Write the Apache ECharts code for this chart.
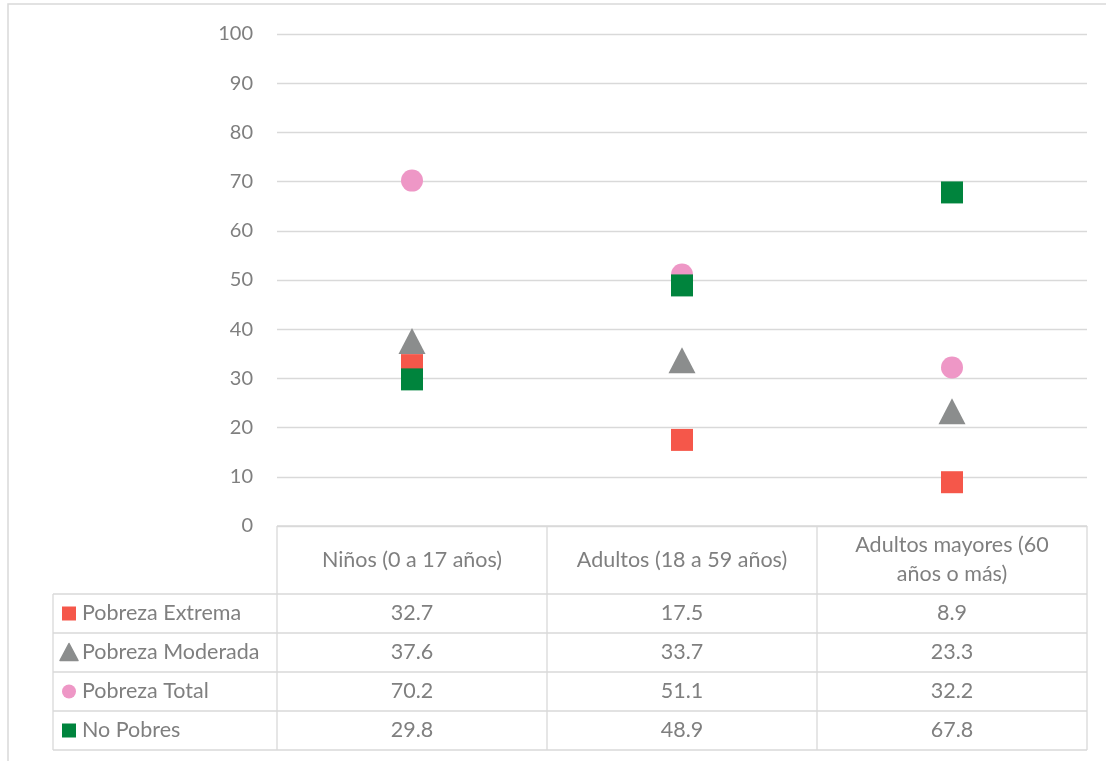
<!DOCTYPE html>
<html>
<head>
<meta charset="utf-8">
<script src="https://cdn.jsdelivr.net/npm/echarts@6/dist/echarts.min.js"></script>
<style>
html,body{margin:0;padding:0;background:#fff;}
#chart{width:1106px;height:761px;}
</style>
</head>
<body>
<div id="chart"></div>
<script>
// ---- data ----
var categories = ['Niños (0 a 17 años)', 'Adultos (18 a 59 años)', 'Adultos mayores (60\naños o más)'];
var seriesNames = ['Pobreza Extrema', 'Pobreza Moderada', 'Pobreza Total', 'No Pobres'];
var pobrezaExtrema = [32.7, 17.5, 8.9];
var pobrezaModerada = [37.6, 33.7, 23.3];
var pobrezaTotal = [70.2, 51.1, 32.2];
var noPobres = [29.8, 48.9, 67.8];
var yTicks = [0, 10, 20, 30, 40, 50, 60, 70, 80, 90, 100];

// ---- styles ----
var colors = ['#F5574A', '#8B8D8D', '#EE97C6', '#00843D'];
var symbols = ['rect', 'triangle', 'circle', 'rect'];
var symbolSizes = [22, [27, 26], 22, 22];
var allValues = [pobrezaExtrema, pobrezaModerada, pobrezaTotal, noPobres];
var textColor = '#7f7f7f';
var lineColor = '#d9d9d9';
var FONT = 'Lato';
var TABLE_FONT = '21.5px ' + FONT;

var GRID = {left: 277, right: 19, top: 34, bottom: 235};
var headerTop = 526, headerBottom = 594, rowH = 39, tableLeft = 53;

var chart = echarts.init(document.getElementById('chart'), null, {renderer: 'canvas'});

var series = seriesNames.map(function (name, i) {
  return {
    name: name,
    type: 'scatter',
    data: allValues[i],
    symbol: symbols[i],
    symbolSize: symbolSizes[i],
    itemStyle: {color: colors[i], opacity: 1},
    emphasis: {disabled: true},
    z: 2 + i
  };
});

chart.setOption({
  animation: false,
  backgroundColor: '#fff',
  grid: GRID,
  xAxis: {
    type: 'category',
    data: categories,
    boundaryGap: true,
    axisLine: {show: false},
    axisTick: {show: false},
    axisLabel: {show: false},
    splitLine: {show: false}
  },
  yAxis: {
    type: 'value',
    min: yTicks[0],
    max: yTicks[yTicks.length - 1],
    interval: yTicks[1] - yTicks[0],
    axisLine: {show: false},
    axisTick: {show: false},
    axisLabel: {color: textColor, fontSize: 20, fontFamily: FONT, margin: 24},
    splitLine: {lineStyle: {color: lineColor, width: 1.3}}
  },
  series: series
});

// ---- data table built from the arrays ----
var plotLeft = GRID.left, plotRight = 1106 - GRID.right;
var colW = (plotRight - plotLeft) / categories.length;
var g = [];
var lineStyle = {stroke: lineColor, lineWidth: 1.3};
function hline(x1, x2, y) { g.push({type: 'line', shape: {x1: x1, y1: y, x2: x2, y2: y}, style: lineStyle, silent: true}); }
function vline(x, y1, y2) { g.push({type: 'line', shape: {x1: x, y1: y1, x2: x, y2: y2}, style: lineStyle, silent: true}); }

var tableBottom = headerBottom + rowH * seriesNames.length;
// outer frame
g.push({type: 'rect', shape: {x: 8, y: 4, width: 1130, height: 800}, style: {fill: null, stroke: lineColor, lineWidth: 1.5}, silent: true, z: -1});
hline(plotLeft, plotRight, headerTop);
for (var r = 0; r <= seriesNames.length; r++) hline(tableLeft, plotRight, headerBottom + r * rowH);
for (var c = 0; c <= categories.length; c++) vline(plotLeft + c * colW, headerTop, tableBottom);
vline(tableLeft, headerBottom, tableBottom);

// header texts
categories.forEach(function (cat, i) {
  var cx = chart.convertToPixel({xAxisIndex: 0}, i);
  g.push({type: 'text', x: cx, y: (headerTop + headerBottom) / 2,
    style: {text: cat, fill: textColor, font: TABLE_FONT, align: 'center', verticalAlign: 'middle', lineHeight: 29}, silent: true});
});
// rows
seriesNames.forEach(function (name, r) {
  var cy = headerBottom + r * rowH + rowH / 2;
  var mx = 69;
  if (symbols[r] === 'rect') {
    g.push({type: 'rect', shape: {x: mx - 7, y: cy - 7, width: 14, height: 14}, style: {fill: colors[r]}, silent: true});
  } else if (symbols[r] === 'circle') {
    g.push({type: 'circle', shape: {cx: mx, cy: cy, r: 7}, style: {fill: colors[r]}, silent: true});
  } else {
    g.push({type: 'polygon', shape: {points: [[mx, cy - 9], [mx + 9, cy + 8], [mx - 9, cy + 8]]}, style: {fill: colors[r], stroke: colors[r], lineWidth: 1.5, lineJoin: 'round'}, silent: true});
  }
  g.push({type: 'text', x: 82, y: cy, style: {text: name, fill: textColor, font: TABLE_FONT, align: 'left', verticalAlign: 'middle'}, silent: true});
  allValues[r].forEach(function (v, i) {
    var cx = chart.convertToPixel({xAxisIndex: 0}, i);
    g.push({type: 'text', x: cx, y: cy, style: {text: v.toFixed(1), fill: textColor, font: TABLE_FONT, align: 'center', verticalAlign: 'middle'}, silent: true});
  });
});

chart.setOption({graphic: {elements: g}});
</script>
</body>
</html>
